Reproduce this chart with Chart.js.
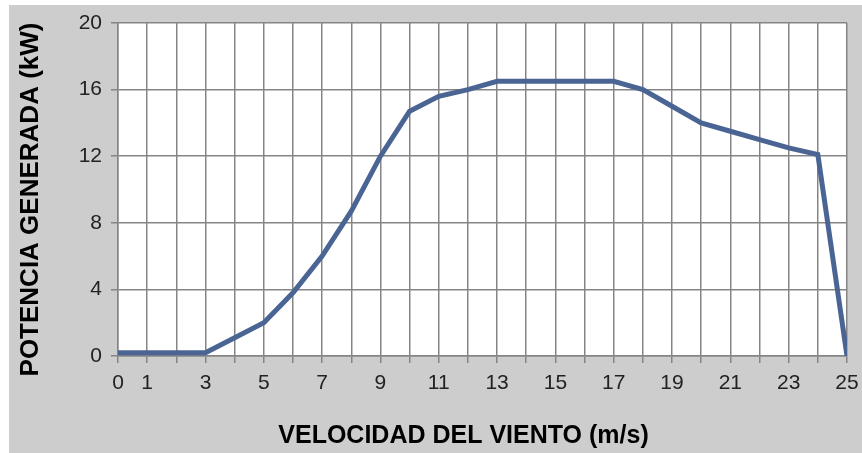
<!DOCTYPE html>
<html>
<head>
<meta charset="utf-8">
<script src="https://cdn.jsdelivr.net/npm/chart.js@4"></script>
<style>
  html, body { margin: 0; padding: 0; background: #fff; }
  #wrap {
    position: absolute;
    left: 9px; top: 5px;
    width: 853px; height: 448px;
    background: #cdcdcd;
  }
</style>
</head>
<body>
<div id="wrap"><canvas id="myChart"></canvas></div>
<script>
  // curva de potencia del aerogenerador
  const velocidad = [0, 1, 2, 3, 4, 5, 6, 7, 8, 9, 10, 11, 12, 13, 14, 15, 16, 17, 18, 19, 20, 21, 22, 23, 24, 25];
  const potencia = [0.2, 0.2, 0.2, 0.2, 1.1, 2, 3.8, 6, 8.7, 12, 14.7, 15.6, 16, 16.5, 16.5, 16.5, 16.5, 16.5, 16, 15, 14, 13.5, 13, 12.5, 12.1, 0];
  const xLabels = [0, 1, 3, 5, 7, 9, 11, 13, 15, 17, 19, 21, 23, 25];
  const yTicks = [0, 4, 8, 12, 16, 20];

  const tituloX = 'VELOCIDAD DEL VIENTO (m/s)';
  const tituloY = 'POTENCIA GENERADA (kW)';

  const fontFam = '"Liberation Sans", Arial, sans-serif';

  // fondo blanco del area de trazado
  const plotBg = {
    id: 'plotBg',
    beforeDraw(chart) {
      const a = chart.chartArea;
      const c = chart.ctx;
      c.save();
      c.fillStyle = '#fff';
      c.fillRect(a.left, a.top, a.right - a.left, a.bottom - a.top);
      c.restore();
    }
  };

  // titulos de los ejes
  const axisTitles = {
    id: 'axisTitles',
    afterDraw(chart) {
      const a = chart.chartArea;
      const c = chart.ctx;
      c.save();
      c.fillStyle = '#000';
      c.textAlign = 'center';
      c.textBaseline = 'middle';
      c.font = 'bold 25px ' + fontFam;
      c.fillText(tituloX, (a.left + a.right) / 2 - 19, chart.height - 17);
      c.translate(22, (a.top + a.bottom) / 2 + 10);
      c.rotate(-Math.PI / 2);
      c.font = 'bold 26px ' + fontFam;
      c.fillText(tituloY, 0, 0);
      c.restore();
    }
  };

  const ctx = document.getElementById('myChart');

  new Chart(ctx, {
    type: 'line',
    data: {
      datasets: [{
        data: velocidad.map((v, i) => ({ x: v, y: potencia[i] })),
        borderColor: '#4a6594',
        borderWidth: 5,
        pointRadius: 0,
        tension: 0,
        fill: false
      }]
    },
    options: {
      responsive: true,
      maintainAspectRatio: false,
      animation: false,
      layout: {
        padding: { top: 18, right: 15, left: 0, bottom: 0 }
      },
      plugins: {
        legend: { display: false },
        tooltip: { enabled: false }
      },
      scales: {
        x: {
          type: 'linear',
          min: 0,
          max: 25,
          afterFit(scale) {
            scale.height = 97;
            scale.paddingLeft = 0;
            scale.paddingRight = 0;
          },
          grid: {
            color: '#858585',
            lineWidth: 1.5,
            tickLength: 7,
            drawTicks: true
          },
          border: { color: '#858585', width: 1.5 },
          ticks: {
            stepSize: 1,
            autoSkip: false,
            maxRotation: 0,
            padding: 8,
            color: '#222',
            font: { family: fontFam, size: 21 },
            callback: (v) => xLabels.includes(v) ? String(v) : ''
          }
        },
        y: {
          min: 0,
          max: 20,
          afterFit(scale) {
            scale.width = 109;
            scale.paddingTop = 0;
            scale.paddingBottom = 0;
          },
          afterBuildTicks(scale) {
            scale.ticks = yTicks.map(v => ({ value: v }));
          },
          grid: {
            color: '#858585',
            lineWidth: 1.5,
            tickLength: 7
          },
          border: { color: '#858585', width: 1.5 },
          ticks: {
            padding: 9,
            color: '#222',
            font: { family: fontFam, size: 21 }
          }
        }
      }
    },
    plugins: [plotBg, axisTitles]
  });
</script>
</body>
</html>
